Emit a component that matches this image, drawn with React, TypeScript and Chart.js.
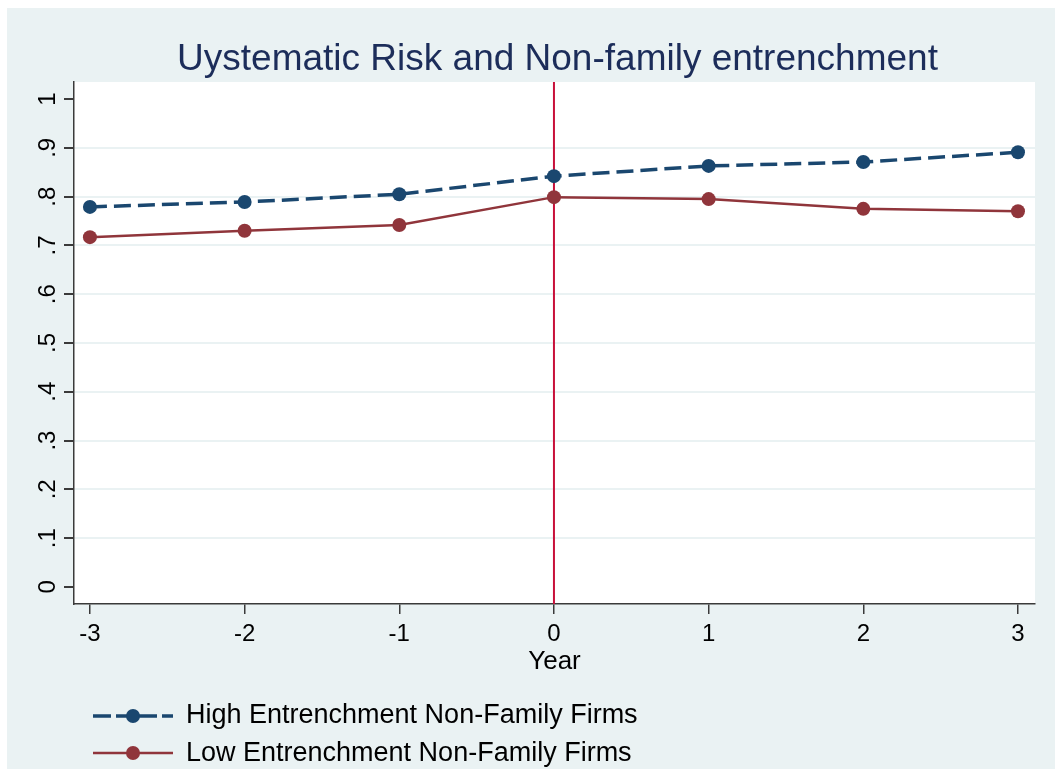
import React, { useEffect, useRef } from "react";
import { Chart, registerables } from "chart.js";

Chart.register(...registerables);

const years = [-3, -2, -1, 0, 1, 2, 3];
const highEntrenchment = [0.779, 0.789, 0.805, 0.842, 0.863, 0.871, 0.891];
const lowEntrenchment = [0.717, 0.730, 0.742, 0.799, 0.795, 0.775, 0.770];
const xTickValues = [-3, -2, -1, 0, 1, 2, 3];
const xTickLabels = ["-3", "-2", "-1", "0", "1", "2", "3"];
const yTickValues = [0, 0.1, 0.2, 0.3, 0.4, 0.5, 0.6, 0.7, 0.8, 0.9, 1];
const yTickLabels = ["0", ".1", ".2", ".3", ".4", ".5", ".6", ".7", ".8", ".9", "1"];
const referenceLineX = 0;
const titleText = "Uystematic Risk and Non-family entrenchment";
const xAxisTitle = "Year";
const seriesNames = ["High Entrenchment Non-Family Firms", "Low Entrenchment Non-Family Firms"];

const FONT = '"Liberation Sans", Arial, sans-serif';
const BG = "#EAF2F3";
const NAVY = "#1a476f";
const MAROON = "#90353b";
const REF = "#c8103a";
const AXIS = "#3a3a3a";

const decorPlugin = {
  id: "decor",
  beforeDraw(chart: any) {
    const { ctx, chartArea } = chart;
    ctx.save();
    ctx.fillStyle = "#ffffff";
    ctx.fillRect(chartArea.left, chartArea.top, chartArea.right - chartArea.left, chartArea.bottom - chartArea.top);
    ctx.restore();
  },
  beforeDatasetsDraw(chart: any) {
    const { ctx, chartArea, scales } = chart;
    const x = scales.x.getPixelForValue(referenceLineX);
    ctx.save();
    ctx.strokeStyle = REF;
    ctx.lineWidth = 2;
    ctx.beginPath();
    ctx.moveTo(x, chartArea.top);
    ctx.lineTo(x, chartArea.bottom);
    ctx.stroke();
    ctx.restore();
  },
  afterDraw(chart: any) {
    const { ctx, chartArea, scales } = chart;
    const cx = (chartArea.left + chartArea.right) / 2;
    ctx.save();
    // title
    ctx.fillStyle = "#1c2d5a";
    ctx.font = `37px ${FONT}`;
    ctx.textAlign = "center";
    ctx.textBaseline = "alphabetic";
    ctx.fillText(titleText, cx + 3, 62);
    // y tick labels rotated
    ctx.fillStyle = "#000";
    ctx.font = `24px ${FONT}`;
    yTickValues.forEach((v, i) => {
      const y = scales.y.getPixelForValue(v);
      ctx.save();
      ctx.translate(48, y);
      ctx.rotate(-Math.PI / 2);
      ctx.textAlign = "center";
      ctx.textBaseline = "alphabetic";
      ctx.fillText(yTickLabels[i], 0, 0);
      ctx.restore();
    });
    // x axis title
    ctx.font = `26px ${FONT}`;
    ctx.textAlign = "center";
    ctx.fillText(xAxisTitle, cx, 661);
    // legend
    const rows = [
      { y: 708, color: NAVY, dash: [18, 5], width: 3.5, text: seriesNames[0], base: 715 },
      { y: 745, color: MAROON, dash: [], width: 2.5, text: seriesNames[1], base: 753 },
    ];
    rows.forEach((r) => {
      ctx.strokeStyle = r.color;
      ctx.lineWidth = r.width;
      ctx.setLineDash(r.dash);
      ctx.beginPath();
      ctx.moveTo(86, r.y);
      ctx.lineTo(166, r.y);
      ctx.stroke();
      ctx.setLineDash([]);
      ctx.fillStyle = r.color;
      ctx.beginPath();
      ctx.arc(126, r.y, 7, 0, Math.PI * 2);
      ctx.fill();
      ctx.fillStyle = "#000";
      ctx.font = `27px ${FONT}`;
      ctx.textAlign = "left";
      ctx.fillText(r.text, 179, r.base);
    });
    ctx.restore();
  },
};

export default function App() {
  const ref = useRef<HTMLCanvasElement>(null);
  useEffect(() => {
    if (!ref.current) return;
    const chart = new Chart(ref.current, {
      type: "line",
      data: {
        datasets: [
          {
            label: seriesNames[0],
            data: years.map((x, i) => ({ x, y: highEntrenchment[i] })),
            borderColor: NAVY,
            backgroundColor: NAVY,
            borderWidth: 3.5,
            borderDash: [17, 7],
            pointRadius: 7,
            pointBorderWidth: 0,
            pointBackgroundColor: NAVY,
            tension: 0,
          },
          {
            label: seriesNames[1],
            data: years.map((x, i) => ({ x, y: lowEntrenchment[i] })),
            borderColor: MAROON,
            backgroundColor: MAROON,
            borderWidth: 2.5,
            pointRadius: 7,
            pointBorderWidth: 0,
            pointBackgroundColor: MAROON,
            tension: 0,
          },
        ],
      },
      options: {
        responsive: false,
        animation: false,
        events: [],
        layout: { padding: { left: 0, top: 74, right: 20, bottom: 0 } },
        plugins: { legend: { display: false }, title: { display: false }, tooltip: { enabled: false } },
        scales: {
          x: {
            type: "linear",
            position: "bottom",
            min: -3.103,
            max: 3.11,
            afterBuildTicks: (s: any) => {
              s.ticks = xTickValues.map((value) => ({ value }));
            },
            afterFit: (s: any) => {
              s.height = 165;
            },
            ticks: {
              color: "#000",
              font: { size: 24, family: FONT },
              padding: 6,
              maxRotation: 0,
              autoSkip: false,
              callback: (v: any) => xTickLabels[xTickValues.indexOf(Number(v))] ?? String(v),
            },
            grid: { drawOnChartArea: false, drawTicks: true, tickLength: 10, tickColor: AXIS, lineWidth: 1.5 },
            border: { display: true, color: AXIS, width: 1.5 },
          },
          y: {
            type: "linear",
            min: -0.035,
            max: 1.035,
            afterBuildTicks: (s: any) => {
              s.ticks = yTickValues.map((value) => ({ value }));
            },
            afterFit: (s: any) => {
              s.width = 67;
            },
            ticks: { display: false },
            grid: {
              drawTicks: true,
              tickLength: 10,
              tickColor: AXIS,
              lineWidth: 2,
              color: (c: any) => {
                const v = c.tick ? c.tick.value : 0;
                return v > 0.001 && v < 0.999 ? BG : "rgba(0,0,0,0)";
              },
            },
            border: { display: true, color: AXIS, width: 1.5 },
          },
        },
      },
      plugins: [decorPlugin],
    } as any);
    return () => chart.destroy();
  }, []);
  return (
    <div style={{ position: "fixed", left: 7, top: 8, width: 1048, height: 761, background: BG }}>
      <canvas ref={ref} width={1048} height={761} style={{ display: "block" }} />
    </div>
  );
}
